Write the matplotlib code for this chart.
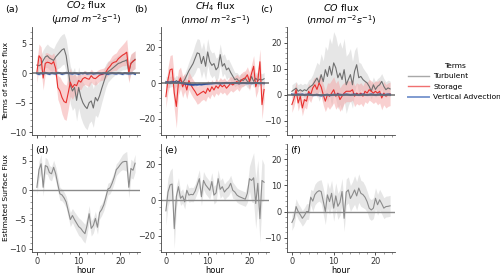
import numpy as np
import matplotlib
matplotlib.use("Agg")
import matplotlib.pyplot as plt
from matplotlib.ticker import AutoMinorLocator
from matplotlib.lines import Line2D

hours = np.arange(0, 24, 0.5)

# ---- CO2 (a) ----
turb_a = [1.4, 1.3, 1.5, 2.2, 2.8, 3.0, 2.6, 2.4, 2.2, 2.8, 3.2, 3.6, 4.0, 4.2, 3.0, 0.5,
          -2.0, -3.0, -2.4, -4.6, -2.4, -4.0, -5.0, -5.6, -6.0, -5.0, -4.7, -5.9, -4.1, -4.7, -3.8, -2.6,
          -1.5, -0.4, 0.3, 0.5, 0.8, 1.1, 1.4, 1.7, 1.8, 2.0, 2.1, 2.3, 0.2, 1.7, 2.0, 2.4]
turb_a_err = [1.6, 1.6, 1.7, 1.8, 1.8, 2.0, 2.0, 2.0, 2.0, 2.2, 2.4, 2.6, 2.6, 2.6, 2.8, 3.0,
              3.2, 3.3, 3.4, 3.5, 3.5, 3.5, 3.5, 3.6, 3.6, 3.5, 3.4, 3.3, 3.0, 2.8, 2.6, 2.4,
              2.2, 2.0, 1.8, 1.6, 1.5, 1.5, 1.4, 1.4, 1.4, 1.4, 1.5, 1.5, 1.5, 1.5, 1.5, 1.5]
stor_a = [0.2, 3.0, 2.5, -0.8, 1.7, 1.9, 1.8, 1.6, 2.0, 0.8, -2.4, -3.0, -4.1, -4.8, -5.0, -3.3,
          -1.5, -2.4, -1.9, -2.1, -1.2, -1.5, -0.9, -0.7, -0.9, -1.0, -0.4, -0.8, -0.9, -0.6, -0.3, -0.2,
          -0.1, 0.2, 0.8, 1.2, 1.7, 1.9, 2.0, 2.5, 2.8, 3.1, 3.3, 3.6, 0.2, 1.7, 2.1, 2.3]
stor_a_err = [1.8, 2.0, 2.0, 2.0, 1.8, 1.6, 1.5, 1.5, 1.5, 1.6, 2.0, 2.4, 2.8, 3.0, 3.0, 2.8,
              2.4, 2.0, 1.8, 1.6, 1.4, 1.3, 1.2, 1.2, 1.2, 1.2, 1.1, 1.1, 1.1, 1.1, 1.0, 1.0,
              1.0, 1.0, 1.1, 1.2, 1.3, 1.4, 1.5, 1.6, 1.7, 1.8, 2.0, 2.2, 1.8, 1.6, 1.5, 1.5]
adv_a = [0.0, -0.1, 0.05, -0.05, 0.1, 0.0, -0.1, 0.05, 0.0, -0.05, 0.1, 0.05, -0.1, 0.0, 0.1, 0.05,
         0.0, -0.05, 0.05, 0.0, -0.1, 0.05, 0.0, 0.1, -0.05, 0.0, 0.05, -0.05, 0.0, 0.05, 0.0, -0.05,
         0.05, 0.0, -0.1, 0.0, 0.05, 0.0, -0.05, 0.05, 0.0, -0.1, 0.05, 0.0, -0.05, 0.0, 0.05, -0.1]
adv_a_err = [0.2] * 48
est_d = [0.5, 3.5, 4.5, 0.5, 4.2, 4.0, 3.0, 2.8, 3.9, 2.8, 1.0, -0.6, -0.8, -1.3, -2.0, -3.5,
         -5.0, -4.3, -5.0, -5.6, -6.2, -6.5, -7.0, -7.4, -6.0, -4.0, -6.5, -6.0, -4.8, -6.3, -3.8, -3.3,
         -2.5, -1.2, 0.2, 0.4, 1.2, 2.2, 3.5, 3.9, 4.4, 4.8, 4.9, 4.9, 0.5, 3.7, 3.4, 4.6]
est_d_err = [1.2, 1.5, 1.6, 1.5, 1.4, 1.3, 1.2, 1.2, 1.2, 1.2, 1.2, 1.1, 1.0, 1.0, 1.0, 1.1,
             1.2, 1.2, 1.3, 1.4, 1.5, 1.5, 1.6, 1.6, 1.5, 1.4, 1.3, 1.3, 1.2, 1.2, 1.1, 1.0,
             1.0, 1.0, 1.0, 1.0, 1.0, 1.0, 1.0, 1.0, 1.1, 1.3, 1.5, 1.7, 1.8, 1.6, 1.5, 1.5]

# ---- CH4 (b) ----
turb_b = [1.0, 0.5, 0.8, 1.2, 0.0, 1.5, 0.5, 1.8, 0.3, 2.0, 4.5, 7.0, 9.0, 11.0, 14.0, 17.0,
          16.5, 11.0, 15.0, 9.5, 17.5, 12.0, 10.0, 11.0, 7.5, 9.0, 16.0, 9.5, 11.0, 7.5, 8.5, 6.0,
          4.0, 2.0, 2.5, 1.0, 2.0, 1.5, 2.8, 1.0, 0.5, 3.8, 1.0, 2.8, 1.5, 2.3, 1.8, 2.5]
turb_b_err = [3, 3, 3, 3, 3, 3, 3, 3, 3, 3.5, 4, 5, 6, 7, 8, 8,
              8, 8, 8, 7.5, 7.5, 7, 7, 6.5, 6.5, 6, 6, 6, 5.5, 5.5, 5, 5,
              4.5, 4, 3.5, 3.5, 3.5, 3.5, 3.5, 3.5, 3.5, 3.5, 3.5, 3.5, 3.5, 3.5, 3.5, 3.5]
stor_b = [-7.5, 2.0, 7.5, 8.0, -5.5, -13.0, 0.5, 3.0, -2.0, 0.5, -3.8, 1.5, -1.0, -3.0, -4.7, -6.8,
          -6.0, -5.2, -4.5, -5.7, -2.8, -4.7, -2.0, -3.8, -1.5, -2.8, -0.8, -2.0, -1.0, -2.8, -1.5, 0.0,
          -1.0, 0.0, 1.0, -0.5, 1.5, 2.5, 3.0, 4.7, 1.0, 5.5, 9.5, -2.0, 1.5, 12.0, -12.0, -3.5]
stor_b_err = [6, 7, 8, 8, 9, 12, 7, 6, 6, 5, 5, 5, 5, 5, 5, 5,
              5, 4.5, 4.5, 4.5, 4.5, 4, 4, 4, 4, 4, 4, 4, 4, 4, 4, 4,
              4, 4, 4, 4, 4, 4, 4, 4.5, 5, 5, 6, 6, 6, 7, 8, 6]
adv_b = [0.3, 0.5, 0.2, 0.4, 0.6, 0.3, 0.5, 0.2, 0.0, -0.2, -0.4, -0.6, -0.8, -0.9, -0.7, -0.8,
         -0.6, -0.7, -0.5, -0.4, -0.3, -0.2, -0.1, 0.0, 0.1, 0.0, -0.1, 0.0, 0.1, 0.2, 0.1, 0.0,
         0.1, 0.2, 0.1, 0.0, 0.1, 0.2, 0.1, 0.0, 0.1, 0.0, 0.1, 0.2, 0.1, 0.0, 0.1, 0.0]
adv_b_err = [0.6] * 48
est_e = [-6.0, 4.5, 8.5, 9.0, -16.0, 2.0, 7.5, 1.0, 2.3, -1.0, 5.5, 2.8, 3.2, 3.0, 5.0, 8.5,
         12.0, 1.9, 11.0, 8.5, 7.0, 5.5, 10.4, 2.8, 4.0, 12.0, 6.0, 7.5, 4.5, 6.0, 7.0, 9.4,
         5.5, 4.5, 2.8, 2.0, 1.5, 1.0, 0.5, 3.8, 12.0, 11.0, 12.5, -1.9, 9.4, -10.4, 11.0, 10.0]
est_e_err = [8, 8, 8, 9, 11, 6, 5, 4, 4, 4, 4, 4, 4, 4, 4, 4.5,
             5, 5, 5, 5, 5, 5, 5, 5, 5, 5, 5, 5, 4.5, 4.5, 4.5, 4.5,
             4.5, 4, 4, 4, 4, 4, 4, 5, 7, 12, 14, 14, 13, 13, 12, 10]

# ---- CO (c) ----
turb_c = [1.3, 1.9, 2.5, 1.3, 1.9, 1.3, 1.9, 1.5, 2.6, 3.2, 3.8, 5.1, 6.4, 4.5, 7.7, 5.0,
          9.6, 7.0, 10.9, 7.5, 12.2, 10.3, 6.5, 8.3, 5.8, 9.6, 3.8, 5.8, 7.7, 3.8, 9.0, 11.5,
          6.5, 7.0, 5.8, 5.1, 4.5, 3.2, 1.3, 3.8, 2.0, 3.2, 3.8, 5.1, 3.2, 1.9, 2.6, 2.2]
turb_c_err = [2.5, 2.5, 2.5, 2.5, 2.5, 2.5, 2.5, 2.5, 3, 3, 4, 5, 6, 7, 8, 8,
              9, 10, 11, 12, 12, 12, 12, 12, 12, 12, 11, 10, 10, 9, 8, 7,
              6, 5, 4.5, 4, 3.5, 3, 3, 3, 3, 3, 3, 3, 3, 3, 3, 3]
stor_c = [-3.8, -1.5, 1.9, -3.2, -0.6, -5.1, -1.9, -2.5, 1.3, 0.0, 2.6, 3.8, 2.0, 4.5, 3.0, 0.0,
          -2.5, 0.0, -0.6, 0.6, 1.9, -0.6, 0.6, -1.9, -0.6, 0.6, 1.3, 1.3, 1.3, 1.9, -0.6, 0.6,
          0.0, 0.6, -0.6, 1.3, 0.6, 1.9, 1.3, 0.6, 1.3, 0.6, 1.3, -1.3, 0.6, -0.6, 0.0, 0.3]
stor_c_err = [3, 3, 3, 3, 3, 3, 3, 3, 3, 3, 3, 3, 3, 3, 3.5, 4,
              4, 4.5, 5, 5, 5, 5, 5, 4.5, 4.5, 4, 4, 4, 4, 4, 4, 4,
              4, 4, 4, 4, 4, 4, 4, 4, 4, 4.5, 4.5, 4.5, 4.5, 4.5, 4.5, 4.5]
adv_c = [0.1, 0.0, -0.1, 0.1, 0.0, 0.1, -0.1, 0.0, 0.1, 0.0, -0.2, -0.1, 0.0, -0.2, -0.3, -0.2,
         -0.1, 0.0, -0.2, -0.1, 0.0, -0.1, 0.1, 0.0, -0.1, 0.0, 0.1, 0.0, -0.1, 0.0, 0.1, 0.0,
         -0.1, 0.0, 0.1, 0.0, -0.1, 0.0, 0.1, 0.0, -0.1, 0.0, 0.1, 0.0, -0.1, 0.0, 0.1, 0.0]
adv_c_err = [0.4] * 48
est_f = [-4.2, -2.5, 1.9, 0.0, -1.2, -2.6, -1.5, 0.0, 0.0, 5.5, 4.0, 6.5, 7.5, 8.0, 7.7, 4.0,
         0.0, 6.4, 3.8, 7.0, 1.3, 6.0, 2.0, 3.5, 7.7, -2.6, 7.5, 8.3, 5.0, 6.5, 8.3, 6.0,
         9.0, 7.0, 6.5, 5.5, 3.8, 1.3, 0.6, 1.3, 5.1, 2.6, 4.5, 3.0, 1.3, 1.9, 2.0, 2.2]
est_f_err = [3, 3, 3, 3, 3, 3, 3, 3, 3, 3, 4, 4, 4, 4, 4.5, 5,
             5, 5, 5, 5, 5, 5, 5, 5, 5, 5, 5, 5, 5, 5, 5.5, 5.5,
             5.5, 5, 5, 4.5, 4, 4, 4, 4, 4, 4, 4, 4, 4, 4, 4, 4]

titles = [r"$CO_2$ flux" + "\n" + r"($\mu mol\ m^{-2}s^{-1}$)",
          r"$CH_4$ flux" + "\n" + r"($nmol\ m^{-2}s^{-1}$)",
          r"$CO$ flux" + "\n" + r"($nmol\ m^{-2}s^{-1}$)"]
top_labels = ["(a)", "(b)", "(c)"]
bot_labels = ["(d)", "(e)", "(f)"]
ylims = [(-10.5, 7.9), (-29, 31.5), (-15.5, 26)]
term_names = ["Turbulent", "Storage", "Vertical Advection"]

plt.rcParams['font.family'] = ['DejaVu Sans']
plt.rcParams['mathtext.fontset'] = 'dejavusans'

FS = 5.4      # axis labels, legend
FK = 5.9      # tick labels
FT = 6.8      # titles, panel letters
plt.rcParams['font.size'] = FS

c_turb = '#6f6f6f'
c_stor = '#e8312f'
c_adv = '#2f4f98'
c_zero = '#707070'

fig = plt.figure(figsize=(5.0, 2.75), dpi=100)
lefts = [0.064, 0.322, 0.574]
w = 0.216
h = 0.393
top_axes = [fig.add_axes([l, 0.509, w, h]) for l in lefts]
bot_axes = [fig.add_axes([l, 0.084, w, h]) for l in lefts]

top_data = [(turb_a, turb_a_err, stor_a, stor_a_err, adv_a, adv_a_err),
            (turb_b, turb_b_err, stor_b, stor_b_err, adv_b, adv_b_err),
            (turb_c, turb_c_err, stor_c, stor_c_err, adv_c, adv_c_err)]
bot_data = [(est_d, est_d_err), (est_e, est_e_err), (est_f, est_f_err)]


def style(ax):
    for s in ['top', 'right']:
        ax.spines[s].set_visible(False)
    for s in ['left', 'bottom']:
        ax.spines[s].set_color('#444444')
        ax.spines[s].set_linewidth(0.6)
    ax.xaxis.set_minor_locator(AutoMinorLocator(5))
    ax.yaxis.set_minor_locator(AutoMinorLocator(5))
    ax.tick_params(which='major', length=2.5, width=0.6, pad=1.5, colors='#333333', labelsize=FK)
    ax.tick_params(which='minor', length=1.2, width=0.5, colors='#777777')
    ax.set_xticks([0, 10, 20])


for i, ax in enumerate(top_axes):
    t, te, s, se, a, ae = [np.array(v, dtype=float) for v in top_data[i]]
    ax.fill_between(hours, t - te, t + te, color='#dcdcdc', alpha=0.7, lw=0)
    ax.fill_between(hours, s - se, s + se, color='#f4a3a3', alpha=0.5, lw=0)
    ax.fill_between(hours, a - ae, a + ae, color='#9fb3dd', alpha=0.5, lw=0)
    ax.plot(hours, t, color=c_turb, lw=0.8)
    ax.plot(hours, s, color=c_stor, lw=0.8)
    ax.plot(hours, a, color=c_adv, lw=1.4)
    ax.axhline(0, color=c_zero, lw=1.3, alpha=0.85)
    ax.set_ylim(*ylims[i])
    style(ax)
    ax.set_xticklabels([])
    ax.set_title(titles[i], fontsize=FT, pad=2, linespacing=1.05)
    ax.text(-0.25, 1.165, top_labels[i], transform=ax.transAxes, fontsize=FT,
            ha='left', va='center')

for i, ax in enumerate(bot_axes):
    e, ee = [np.array(v, dtype=float) for v in bot_data[i]]
    ax.fill_between(hours, e - ee, e + ee, color='#dcdcdc', alpha=0.7, lw=0)
    ax.plot(hours, e, color='#8c8c8c', lw=0.8)
    ax.axhline(0, color='#8a8a8a', lw=1.0)
    ax.set_ylim(*ylims[i])
    style(ax)
    ax.set_xlabel("hour", fontsize=FK, labelpad=0)
    ax.text(0.03, 0.98, bot_labels[i], transform=ax.transAxes, fontsize=FT,
            ha='left', va='top')

top_axes[0].set_ylabel("Terms of surface flux", fontsize=FS)
bot_axes[0].set_ylabel("Estimated Surface Flux", fontsize=FS)
for ax in (top_axes[0], bot_axes[0]):
    ax.yaxis.set_label_coords(-0.215, 0.5)

handles = [Line2D([0], [0], color='#a8a8a8', lw=1.0),
           Line2D([0], [0], color='#f07070', lw=1.0),
           Line2D([0], [0], color='#7f9bd0', lw=1.4)]
fig.legend(handles, term_names, title="Terms", loc='upper left',
           bbox_to_anchor=(0.806, 0.79), frameon=False, fontsize=FS, title_fontsize=FS,
           handlelength=2.8, handletextpad=0.5, labelspacing=0.55, borderpad=0.2)

fig.savefig("out.png", dpi=100)
